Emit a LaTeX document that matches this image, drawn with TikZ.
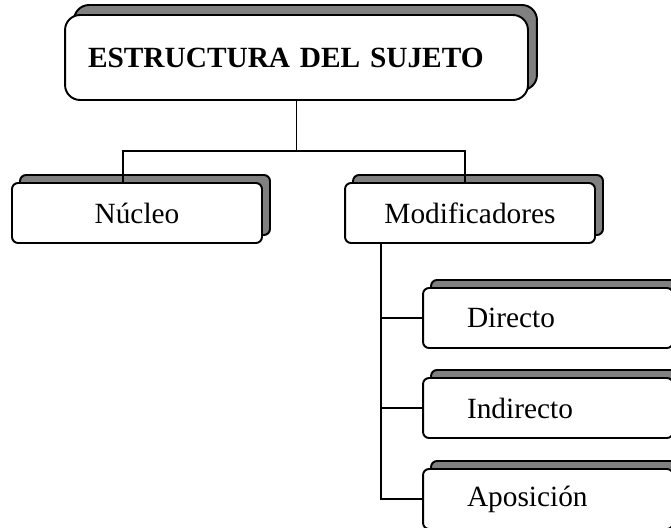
\documentclass[tikz,border=0pt]{standalone}
\usepackage{fontspec}
\setmainfont{Liberation Serif}
\usetikzlibrary{shadows}

\begin{document}
\begin{tikzpicture}[x=0.02cm,y=-0.02cm,line width=1.1pt,
  main box/.style={rectangle,rounded corners=0.3cm,draw,fill=white,
    minimum width=9.26cm,minimum height=1.7cm,inner xsep=0.46cm,
    text width=8.34cm,align=left,font=\fontsize{16.7}{20}\selectfont\bfseries,
    copy shadow={shadow xshift=0.18cm,shadow yshift=0.2cm,fill=gray,draw=black}},
  part box/.style={rectangle,rounded corners=0.12cm,draw,fill=white,
    minimum width=5cm,minimum height=1.2cm,font=\fontsize{16.7}{20}\selectfont,
    copy shadow={shadow xshift=0.16cm,shadow yshift=0.16cm,fill=gray,draw=black}},
  sub box/.style={part box,inner xsep=0.88cm,text width=3.24cm,align=left}]

  \path[use as bounding box] (0,0) rectangle (671,527);
  \clip (0,0) rectangle (671,527);

  \node[main box] (sujeto) at (296.5,57.5) {ESTRUCTURA DEL SUJETO};
  \node[part box] (nucleo) at (137,213) {Núcleo};
  \node[part box] (modif) at (470,213) {Modificadores};
  \node[sub box] (directo) at (548,318) {Directo};
  \node[sub box] (indirecto) at (548,408) {Indirecto};
  \node[sub box] (aposicion) at (548,499) {Aposición};

  \coordinate (split) at (296.5,151);
  \draw (sujeto.south) -- (split);
  \draw ([xshift=-0.28cm]nucleo.north) |- (split) -| ([xshift=-0.1cm]modif.north);

  \coordinate (trunk) at ([xshift=0.74cm]modif.south west);
  \draw (trunk) |- (aposicion.west);
  \draw (trunk |- directo.west) -- (directo.west);
  \draw (trunk |- indirecto.west) -- (indirecto.west);
\end{tikzpicture}
\end{document}
